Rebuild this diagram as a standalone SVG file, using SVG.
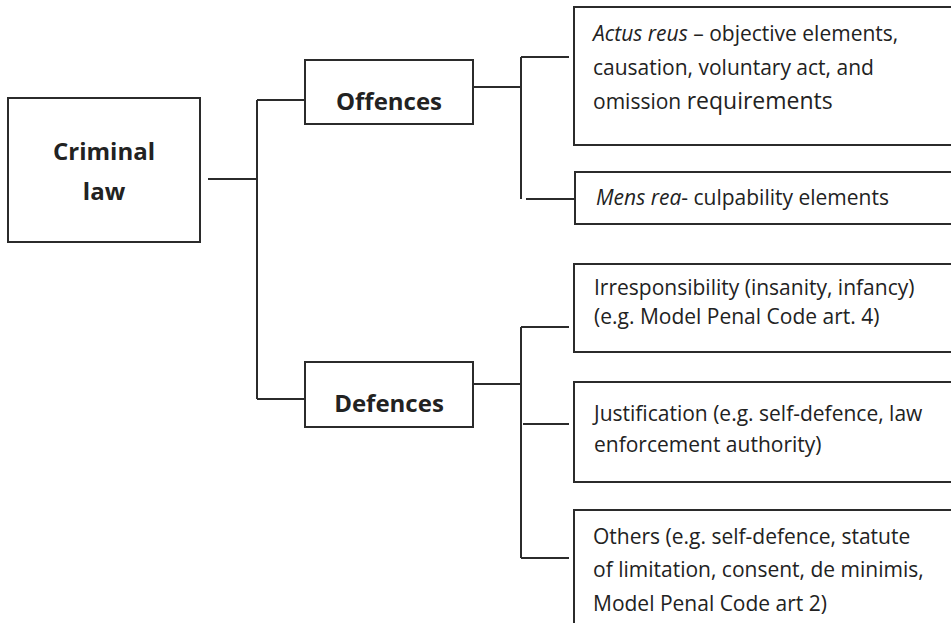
<svg xmlns="http://www.w3.org/2000/svg" width="951" height="623" viewBox="0 0 951 623">
<style>
.box{fill:#fff;stroke:#2b2b2b;stroke-width:2}
.ln{stroke:#2b2b2b;stroke-width:2;fill:none}
.t{font-family:"Open Sans","Liberation Sans",sans-serif;font-size:21px;fill:#222}
.b{font-family:"Open Sans","Liberation Sans",sans-serif;font-size:24px;font-weight:bold;fill:#222;text-anchor:middle}
.i{font-style:italic}
</style>
<rect width="951" height="623" fill="#fff"/>
<g id="connectors">
<path class="ln" d="M208,179H257M257,100V399M257,100H305M257,399H305"/>
<path class="ln" d="M473,87H521M521,57V199M521,57H569M526,199H575"/>
<path class="ln" d="M473,384H521M521,327V558M521,327H569M523,424H569M521,558H569"/>
</g>
<g id="criminal-law">
<rect class="box" x="8" y="98" width="192" height="144"/>
<text class="b" x="104" y="160">Criminal</text>
<text class="b" x="104" y="200">law</text>
</g>
<g id="offences">
<rect class="box" x="305" y="60" width="168" height="64"/>
<text class="b" x="389" y="110">Offences</text>
</g>
<g id="defences">
<rect class="box" x="305" y="362" width="168" height="65"/>
<text class="b" x="389" y="412">Defences</text>
</g>
<g id="actus-reus">
<rect class="box" x="574" y="7" width="400" height="138"/>
<text class="t" x="593" y="41"><tspan class="i">Actus reus</tspan> – objective elements,</text>
<text class="t" x="593" y="75">causation, voluntary act, and</text>
<text class="t" x="593" y="109">omission <tspan font-size="23">requirements</tspan></text>
</g>
<g id="mens-rea">
<rect class="box" x="575" y="172" width="400" height="52"/>
<text class="t" x="596" y="205"><tspan class="i">Mens rea</tspan>- culpability elements</text>
</g>
<g id="irresponsibility">
<rect class="box" x="574" y="264" width="400" height="88"/>
<text class="t" x="594" y="295">Irresponsibility (insanity, infancy)</text>
<text class="t" x="594" y="324">(e.g. Model Penal Code art. 4)</text>
</g>
<g id="justification">
<rect class="box" x="574" y="382" width="400" height="100"/>
<text class="t" x="594" y="421">Justification (e.g. self-defence, law</text>
<text class="t" x="594" y="452">enforcement authority)</text>
</g>
<g id="others">
<rect class="box" x="574" y="510" width="400" height="140"/>
<text class="t" x="593" y="544">Others (e.g. self-defence, statute</text>
<text class="t" x="593" y="577">of limitation, consent, de minimis,</text>
<text class="t" x="593" y="611">Model Penal Code art 2)</text>
</g>
</svg>
